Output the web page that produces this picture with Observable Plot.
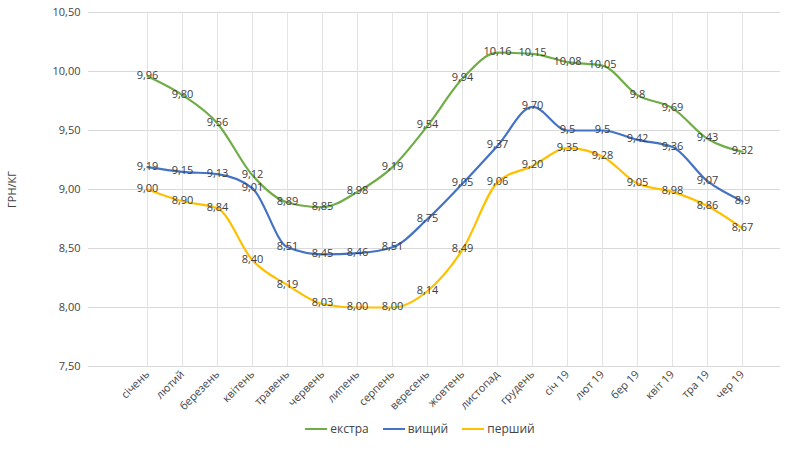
<!DOCTYPE html>
<html><head><meta charset="utf-8">
<script src="https://cdn.jsdelivr.net/npm/d3@7"></script>
<script src="https://cdn.jsdelivr.net/npm/@observablehq/plot@0.6"></script>
<style>body{margin:0;background:#fff;font-family:"Open Sans",Arial,sans-serif}
#legend{display:flex;justify-content:center;gap:14px;font-size:12px;color:#444;margin-top:8px;margin-left:40px}
#legend span{display:flex;align-items:center;gap:3px}
#legend i{display:inline-block;width:22px;height:2px}</style>
</head><body><div id="c"></div><div id="legend"></div>
<script>
const months=["січень","лютий","березень","квітень","травень","червень","липень","серпень","вересень","жовтень","листопад","грудень","січ 19","лют 19","бер 19","квіт 19","тра 19","чер 19"];
const ekstra=[9.96,9.80,9.56,9.12,8.89,8.85,8.98,9.19,9.54,9.94,10.16,10.15,10.08,10.05,9.8,9.69,9.43,9.32];
const ekstraL=["9,96","9,80","9,56","9,12","8,89","8,85","8,98","9,19","9,54","9,94","10,16","10,15","10,08","10,05","9,8","9,69","9,43","9,32"];
const vyshchyi=[9.19,9.15,9.13,9.01,8.51,8.45,8.46,8.51,8.75,9.05,9.37,9.70,9.5,9.5,9.42,9.36,9.07,8.9];
const vyshchyiL=["9,19","9,15","9,13","9,01","8,51","8,45","8,46","8,51","8,75","9,05","9,37","9,70","9,5","9,5","9,42","9,36","9,07","8,9"];
const pershyi=[9.00,8.90,8.84,8.40,8.19,8.03,8.00,8.00,8.14,8.49,9.06,9.20,9.35,9.28,9.05,8.98,8.86,8.67];
const pershyiL=["9,00","8,90","8,84","8,40","8,19","8,03","8,00","8,00","8,14","8,49","9,06","9,20","9,35","9,28","9,05","8,98","8,86","8,67"];
const yTicks=[7.5,8,8.5,9,9.5,10,10.5];
const series=[
 {name:"екстра",v:ekstra,l:ekstraL,c:"#70ad47"},
 {name:"вищий",v:vyshchyi,l:vyshchyiL,c:"#4472c4"},
 {name:"перший",v:pershyi,l:pershyiL,c:"#ffc000"}];
const data=series.flatMap(s=>months.map((m,i)=>({m,y:s.v[i],lab:s.l[i],s:s.name,c:s.c})));
const fmt=d=>d.toFixed(2).replace(".",",");
const chart=Plot.plot({
 width:800,height:412,marginLeft:88,marginRight:20,marginTop:12,marginBottom:46,
 style:{fontFamily:"'Open Sans',Arial,sans-serif",fontSize:"11px",color:"#444"},
 x:{type:"point",domain:months,range:[127,762],label:null,tickSize:0,tickRotate:-45,tickPadding:6},
 y:{domain:[7.5,10.5],ticks:yTicks,tickFormat:fmt,label:"ГРН/КГ",labelArrow:"none",labelAnchor:"center",labelOffset:80,tickSize:0,tickPadding:8},
 marks:[
  Plot.gridY(yTicks,{stroke:"#d9d9d9",strokeOpacity:1}),
  Plot.ruleX(months,{x:d=>d,y1:7.5,y2:10.5,stroke:"#e3e3e3"}),
  Plot.line(data,{x:"m",y:"y",z:"s",stroke:"c",strokeWidth:2.2,curve:"monotone-x"}),
  Plot.text(data,{x:"m",y:"y",text:"lab",fill:"#404040",fontSize:11,dy:-1})
 ]});
document.getElementById("c").appendChild(chart);
document.getElementById("legend").innerHTML=series.map(s=>`<span><i style="background:${s.c}"></i>${s.name}</span>`).join("");
</script></body></html>
